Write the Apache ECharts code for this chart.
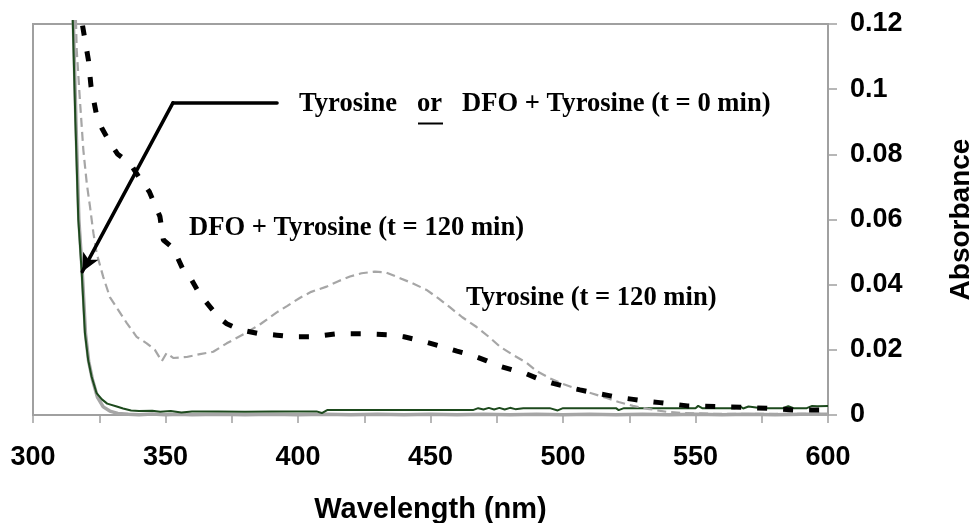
<!DOCTYPE html>
<html>
<head>
<meta charset="utf-8">
<script src="https://cdn.jsdelivr.net/npm/echarts@6/dist/echarts.min.js"></script>
<style>
html,body{margin:0;padding:0;background:#fff;}
#chart{width:979px;height:523px;}
</style>
</head>
<body>
<div id="chart"></div>
<script>
// Tyrosine or DFO + Tyrosine (t = 0 min) - dark green trace
const wlT0a = [315.0, 316.0, 317.1, 318.4, 319.6, 320.8, 322.1, 324.0, 326.0, 328.0, 331.6, 334, 337, 340, 345, 348, 352, 356, 360, 370, 380, 390, 400, 407, 409, 411, 420, 430, 440, 450, 460, 466, 468, 470, 472, 474, 476, 478, 480, 482, 485, 495, 498, 500, 510, 520, 521, 523, 535, 545, 550, 551, 552.5, 560, 565, 567, 568, 570, 575, 583, 585, 587, 592, 594, 596, 600];
const absT0a = [0.1212, 0.0900, 0.0600, 0.0435, 0.0251, 0.0170, 0.0118, 0.0067, 0.0048, 0.0035, 0.0026, 0.0020, 0.0014, 0.0012, 0.0013, 0.0010, 0.0012, 0.0008, 0.0011, 0.0011, 0.0010, 0.0011, 0.0011, 0.0011, 0.0006, 0.0015, 0.0015, 0.0015, 0.0015, 0.0015, 0.0015, 0.0015, 0.0021, 0.0017, 0.0022, 0.0017, 0.0022, 0.0017, 0.0022, 0.0018, 0.0021, 0.0021, 0.0014, 0.0021, 0.0021, 0.0021, 0.0015, 0.0021, 0.0021, 0.0021, 0.0021, 0.0028, 0.0021, 0.0021, 0.0021, 0.0026, 0.0020, 0.0026, 0.0021, 0.0021, 0.0027, 0.0021, 0.0021, 0.0028, 0.0027, 0.0028];

// second t = 0 min trace - light grey solid
const wlT0b = [315.2, 316.2, 317.3, 318.6, 319.8, 321.0, 322.4, 324.3, 326.5, 329.0, 332, 336, 340, 345, 350, 355, 360, 370, 380, 390, 400, 410, 420, 430, 440, 450, 460, 470, 480, 490, 500, 510, 520, 530, 540, 550, 560, 570, 580, 590, 600];
const absT0b = [0.1212, 0.0900, 0.0600, 0.0435, 0.0250, 0.0165, 0.0110, 0.0055, 0.0025, 0.0012, 0.0005, 0.0002, 0.0001, 0.0003, 0.0001, 0.0002, 0.0001, 0.0002, 0.0001, 0.0002, 0.0001, 0.0002, 0.0001, 0.0002, 0.0001, 0.0002, 0.0001, 0.0002, 0.0001, 0.0002, 0.0001, 0.0002, 0.0001, 0.0002, 0.0001, 0.0002, 0.0001, 0.0002, 0.0001, 0.0002, 0.0002];

// Tyrosine (t = 120 min) - grey dashed
const wlTyr120 = [316.2, 316.5, 317.7, 319.0, 320.3, 321.5, 322.8, 324.0, 326.5, 329.0, 332.2, 335.4, 339.1, 342.9, 346.0, 348.6, 350.4, 352.9, 358.0, 363.0, 368.0, 373.1, 380, 386, 392, 396, 400.8, 405, 410.8, 415, 419.6, 424, 429, 433, 438.5, 443, 448.5, 453, 457.4, 462, 467.4, 472, 476.2, 481, 486.3, 490, 495, 500, 506.4, 511, 516.5, 521, 526.4, 532, 539, 545, 555, 570, 585, 600];
const absTyr120 = [0.1212, 0.1120, 0.0967, 0.0813, 0.0710, 0.0640, 0.0558, 0.0497, 0.0424, 0.0362, 0.0322, 0.0282, 0.0240, 0.0220, 0.0200, 0.0165, 0.0190, 0.0175, 0.0178, 0.0187, 0.0194, 0.0220, 0.0250, 0.0280, 0.0315, 0.0335, 0.0360, 0.0378, 0.0394, 0.0410, 0.0425, 0.0435, 0.0440, 0.0438, 0.0420, 0.0405, 0.0384, 0.0358, 0.0330, 0.0300, 0.0270, 0.0240, 0.0210, 0.0185, 0.0160, 0.0135, 0.0113, 0.0095, 0.0077, 0.0066, 0.0052, 0.0040, 0.0028, 0.0019, 0.0010, 0.0006, 0.0004, 0.0003, 0.0004, 0.0003];

// DFO + Tyrosine (t = 120 min) - black heavy dashes
const wlDfo120 = [318.7, 320.9, 321.9, 324.0, 326.0, 328.8, 332.0, 336.6, 340.0, 343.9, 347.9, 349.2, 352.9, 356.7, 359.9, 363.0, 366.2, 370.0, 373.1, 378, 385, 392, 398, 405.2, 414.6, 424.6, 434.7, 440, 445.4, 450, 455.5, 460, 465.5, 471, 476, 481, 486.3, 491, 496.3, 501, 506.4, 511, 516.5, 521, 526.5, 531, 536.6, 542, 547, 557.4, 567.4, 578, 587.5, 597.6, 600];
const absDfo120 = [0.1195, 0.1090, 0.1008, 0.0920, 0.0880, 0.0839, 0.0800, 0.0772, 0.0730, 0.0685, 0.0609, 0.0537, 0.0512, 0.0445, 0.0414, 0.0370, 0.0338, 0.0300, 0.0280, 0.0262, 0.0250, 0.0245, 0.0240, 0.0240, 0.0249, 0.0249, 0.0246, 0.0240, 0.0230, 0.0220, 0.0207, 0.0196, 0.0184, 0.0167, 0.0150, 0.0138, 0.0126, 0.0110, 0.0097, 0.0087, 0.0077, 0.0069, 0.0061, 0.0054, 0.0048, 0.0043, 0.0038, 0.0033, 0.0028, 0.0026, 0.0024, 0.0020, 0.0015, 0.0015, 0.0015];

// axis ranges / ticks
const xMin = 300, xMax = 600, xTickStep = 25, xLabelStep = 50;
const yMin = 0, yMax = 0.12, yStep = 0.02;

// annotation arrow (data coords)
const arrowStart = [392.1, 0.0958];
const arrowCorner = [352.8, 0.0958];
const arrowTip = [318.6, 0.0440];

const pairs = (xs, ys) => xs.map((x, i) => [x, ys[i]]);

const chart = echarts.init(document.getElementById('chart'), null, {renderer: 'canvas'});
const axisGray = '#a0a0a0';
const sans = '"Liberation Sans", Arial, sans-serif';
const serif = '"Liberation Serif", "Times New Roman", serif';
const annoFont = 'bold 26.6px ' + serif;

chart.setOption({
  animation: false,
  backgroundColor: '#fff',
  grid: {left: 33, right: 151, top: 24, bottom: 108, show: true, borderColor: axisGray, borderWidth: 2,
         backgroundColor: 'transparent', containLabel: false, outerBoundsMode: 'none'},
  xAxis: {
    type: 'value', min: xMin, max: xMax, interval: xTickStep,
    axisLine: {show: true, onZero: false, lineStyle: {color: axisGray, width: 2}},
    axisTick: {show: true, length: 8, lineStyle: {color: axisGray, width: 1.5}},
    splitLine: {show: false},
    axisLabel: {
      formatter: v => (Math.round(v) % xLabelStep === 0 ? String(Math.round(v)) : ''),
      fontFamily: sans, fontWeight: 'bold', fontSize: 27, color: '#000', margin: 29
    },
    name: 'Wavelength (nm)', nameLocation: 'middle', nameGap: 80,
    nameTextStyle: {fontFamily: sans, fontWeight: 'bold', fontSize: 29, color: '#000'}
  },
  yAxis: {
    type: 'value', position: 'right', min: yMin, max: yMax, interval: yStep,
    axisLine: {show: true, onZero: false, lineStyle: {color: axisGray, width: 2}},
    axisTick: {show: true, length: 9, lineStyle: {color: axisGray, width: 1.5}},
    splitLine: {show: false},
    axisLabel: {
      formatter: v => (Math.abs(v) < 1e-9 ? '0' : String(+v.toFixed(2))),
      fontFamily: sans, fontWeight: 'bold', fontSize: 27, color: '#000', margin: 22
    },
    name: 'Absorbance', nameLocation: 'middle', nameRotate: 90, nameGap: 119,
    nameTextStyle: {fontFamily: sans, fontWeight: 'bold', fontSize: 28, color: '#000'}
  },
  series: [
    {
      name: 't0 grey', type: 'line', data: pairs(wlT0b, absT0b), showSymbol: false, symbol: 'none', clip: false,
      lineStyle: {color: '#a6a6a6', width: 3.5}, z: 2
    },
    {
      name: 'Tyrosine or DFO + Tyrosine (t = 0 min)', type: 'line', data: pairs(wlT0a, absT0a), showSymbol: false, symbol: 'none', clip: false,
      lineStyle: {color: '#1d4a1d', width: 2}, z: 3
    },
    {
      name: 'Tyrosine (t = 120 min)', type: 'line', data: pairs(wlTyr120, absTyr120), showSymbol: false, symbol: 'none', clip: false,
      lineStyle: {color: '#a6a6a6', width: 2.2, type: [9, 5]}, z: 4
    },
    {
      name: 'DFO + Tyrosine (t = 120 min)', type: 'line', data: pairs(wlDfo120, absDfo120), showSymbol: false, symbol: 'none', clip: false,
      lineStyle: {color: '#000', width: 5, type: [10, 16]}, z: 5,
      markLine: {
        silent: true, animation: false, symbol: ['none', 'none'],
        label: {show: false},
        lineStyle: {color: '#000', width: 3.5, type: 'solid', cap: 'round'},
        data: [
          [{coord: arrowStart, symbol: 'none'}, {coord: arrowCorner, symbol: 'none'}],
          [{coord: arrowCorner, symbol: 'none'}, {coord: arrowTip, symbol: 'arrow', symbolSize: [13, 18]}]
        ]
      }
    }
  ],
  graphic: [
    {type: 'text', x: 299, y: 104, silent: true,
     style: {text: 'Tyrosine   or   DFO + Tyrosine (t = 0 min)', font: annoFont, fill: '#000', align: 'left', verticalAlign: 'middle'}},
    {type: 'line', silent: true, shape: {x1: 418, y1: 123.5, x2: 443, y2: 123.5}, style: {stroke: '#000', lineWidth: 2}},
    {type: 'text', x: 189, y: 228.5, silent: true,
     style: {text: 'DFO + Tyrosine (t = 120 min)', font: annoFont, fill: '#000', align: 'left', verticalAlign: 'middle'}},
    {type: 'text', x: 466, y: 298, silent: true,
     style: {text: 'Tyrosine (t = 120 min)', font: annoFont, fill: '#000', align: 'left', verticalAlign: 'middle'}}
  ]
});
</script>
</body>
</html>
